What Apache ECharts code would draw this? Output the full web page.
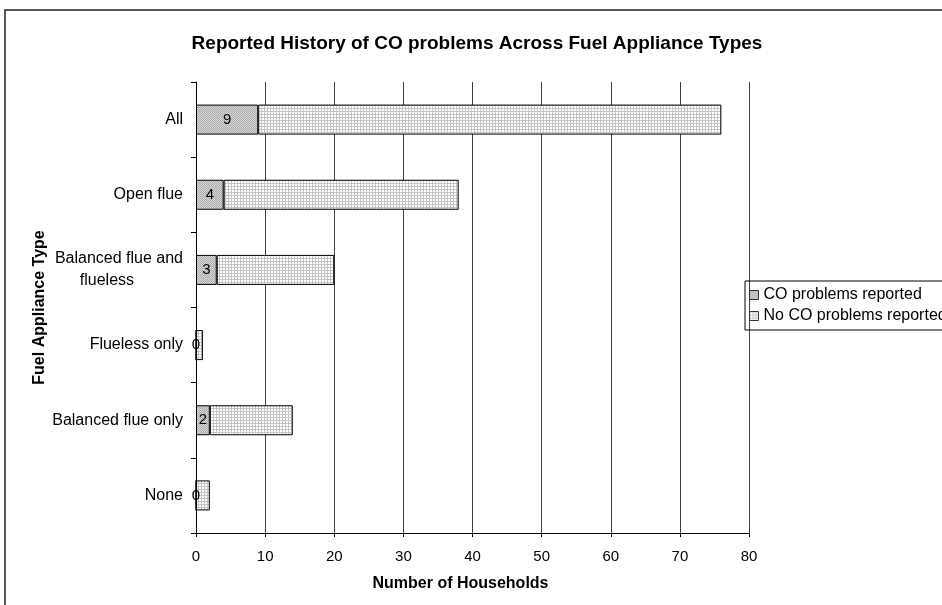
<!DOCTYPE html>
<html>
<head>
<meta charset="utf-8">
<script src="https://cdn.jsdelivr.net/npm/echarts@6/dist/echarts.min.js"></script>
<style>
html,body{margin:0;padding:0;background:#fff;}
#chart{width:942px;height:605px;}
</style>
</head>
<body>
<div id="chart"></div>
<script>
var categories = ['All', 'Open flue', 'Balanced flue and\nflueless', 'Flueless only', 'Balanced flue only', 'None'];
var coReported = [9, 4, 3, 0, 2, 0];
var noCoReported = [67, 34, 17, 1, 12, 2];
var seriesNames = ['CO problems reported', 'No CO problems reported'];
var xTicks = [0, 10, 20, 30, 40, 50, 60, 70, 80];

function makeTile(size, draw) {
  var c = document.createElement('canvas');
  c.width = size; c.height = size;
  var ctx = c.getContext('2d');
  draw(ctx);
  return c;
}
var coTile = makeTile(2, function (ctx) {
  ctx.fillStyle = '#d8d8d8'; ctx.fillRect(0, 0, 2, 2);
  ctx.fillStyle = '#aaaaaa'; ctx.fillRect(0, 0, 1, 1); ctx.fillRect(1, 1, 1, 1);
});
var noCoTile = makeTile(3, function (ctx) {
  ctx.fillStyle = '#ffffff'; ctx.fillRect(0, 0, 3, 3);
  ctx.fillStyle = '#c4c4c4'; ctx.fillRect(0, 0, 3, 1); ctx.fillRect(0, 0, 1, 3);
});

var font = 'Liberation Sans, Arial, sans-serif';
var chart = echarts.init(document.getElementById('chart'), null, {renderer: 'canvas'});
chart.setOption({
  backgroundColor: '#ffffff',
  animation: false,
  textStyle: {fontFamily: font, color: '#000'},
  title: {
    text: 'Reported History of CO problems Across Fuel Appliance Types',
    left: 472, top: 29, textAlign: 'center',
    textStyle: {fontFamily: font, fontSize: 19, fontWeight: 'bold', color: '#000'}
  },
  graphic: [{
    type: 'rect', silent: true,
    shape: {x: 5, y: 10, width: 1000, height: 1000},
    style: {fill: 'none', stroke: '#222', lineWidth: 1.5}
  }],
  legend: {
    orient: 'vertical', left: 745, top: 281,
    padding: [6, 60, 6, 4],
    borderColor: '#000', borderWidth: 1,
    icon: 'rect',
    itemWidth: 9, itemHeight: 9, itemGap: 5,
    itemStyle: {borderColor: '#333', borderWidth: 1},
    textStyle: {fontFamily: font, fontSize: 16, color: '#000'},
    data: seriesNames
  },
  grid: {left: 196, right: 193, top: 82, bottom: 72},
  xAxis: {
    type: 'value', min: xTicks[0], max: xTicks[xTicks.length - 1], interval: 10,
    name: 'Number of Households', nameLocation: 'middle', nameGap: 43, nameMoveOverlap: false,
    nameTextStyle: {fontFamily: font, fontSize: 16, fontWeight: 'bold', color: '#000', padding: [0, 24, 0, 0]},
    axisLine: {show: true, lineStyle: {color: '#000', width: 1}},
    axisTick: {show: true, length: 4, lineStyle: {color: '#000'}},
    axisLabel: {fontFamily: font, fontSize: 15, color: '#000', margin: 16},
    splitLine: {show: true, lineStyle: {color: '#404040', width: 1}}
  },
  yAxis: {
    type: 'category', data: categories, inverse: true,
    name: 'Fuel Appliance Type', nameLocation: 'middle', nameGap: 148, nameRotate: 90, nameMoveOverlap: false,
    nameTextStyle: {fontFamily: font, fontSize: 16, fontWeight: 'bold', color: '#000'},
    axisLine: {show: true, lineStyle: {color: '#000', width: 1}},
    axisTick: {show: true, length: 5, lineStyle: {color: '#000'}},
    axisLabel: {
      fontFamily: font, fontSize: 16, color: '#000', margin: 13, align: 'right', lineHeight: 22,
      formatter: function (v) {
        if (v.indexOf('\n') >= 0) {
          var parts = v.split('\n');
          return '{c|' + parts[0] + '}\n{d|' + parts[1] + '}';
        }
        return v;
      },
      rich: {
        c: {align: 'center', fontFamily: font, fontSize: 16, color: '#000', lineHeight: 22},
        d: {align: 'center', fontFamily: font, fontSize: 16, color: '#000', lineHeight: 22, padding: [0, 24, 0, 0]}
      }
    }
  },
  series: [{
    name: seriesNames[0], type: 'bar', stack: 'total', barWidth: 30,
    data: coReported,
    itemStyle: {color: {image: coTile, repeat: 'repeat'}, borderColor: '#000', borderWidth: 1},
    label: {show: true, position: 'inside', fontFamily: font, fontSize: 15, color: '#000',
      formatter: function (p) { return String(p.value); }},
    emphasis: {disabled: true}
  }, {
    name: seriesNames[1], type: 'bar', stack: 'total', barWidth: 30,
    data: noCoReported,
    itemStyle: {color: {image: noCoTile, repeat: 'repeat'}, borderColor: '#000', borderWidth: 1},
    emphasis: {disabled: true}
  }]
});
</script>
</body>
</html>
